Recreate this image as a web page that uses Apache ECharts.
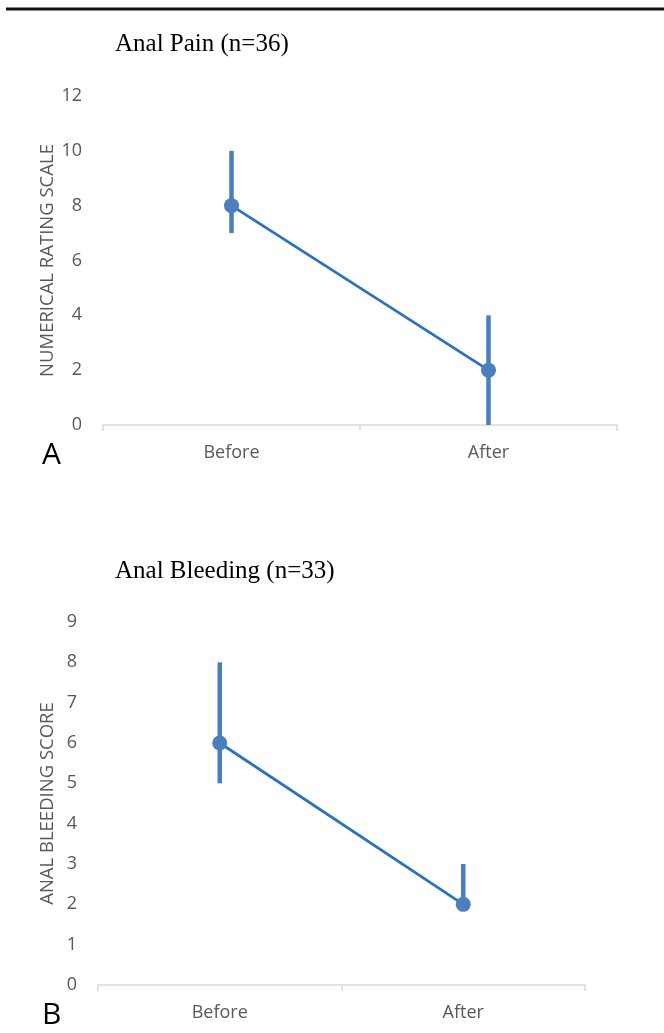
<!DOCTYPE html>
<html><head><meta charset="utf-8">
<script src="https://cdn.jsdelivr.net/npm/echarts@6/dist/echarts.min.js"></script>
<style>html,body{margin:0;padding:0;background:#fff}#c{width:664px;height:1033px}</style>
</head><body><div id="c"></div>
<script>
var categories = ['Before', 'After'];
var painMean = [8, 2];
var painLow = [7, 0];
var painHigh = [10, 4];
var bleedMean = [6, 2];
var bleedLow = [5, 2];
var bleedHigh = [8, 3];
var painTicks = {min: 0, max: 12, interval: 2};
var bleedTicks = {min: 0, max: 9, interval: 1};

var LINE = '#2a72bd', BAR = '#4a7ebf', GRAY = '#595959', AX = '#d9d9d9';
var FONT = 'Open Sans';

function errData(low, high) {
  return categories.map(function (c, i) { return [i, low[i], high[i]]; });
}
function errSeries(idx, low, high) {
  return {
    type: 'custom', xAxisIndex: idx, yAxisIndex: idx, z: 2,
    data: errData(low, high),
    renderItem: function (params, api) {
      var a = api.coord([api.value(0), api.value(1)]);
      var b = api.coord([api.value(0), api.value(2)]);
      return {type: 'line', shape: {x1: a[0], y1: a[1], x2: b[0], y2: b[1]},
        style: {stroke: BAR, lineWidth: 4.5}};
    }
  };
}
function xAxis(idx) {
  return {type: 'category', gridIndex: idx, data: categories, boundaryGap: true,
    axisLine: {lineStyle: {color: AX, width: 1.5}},
    axisTick: {show: true, length: 6, lineStyle: {color: AX, width: 1.5}},
    axisLabel: {color: GRAY, fontSize: 18, fontFamily: FONT, margin: 19}};
}
function yAxis(idx, t, name, gap) {
  return {type: 'value', gridIndex: idx, min: t.min, max: t.max, interval: t.interval,
    name: name, nameLocation: 'middle', nameRotate: 90, nameGap: gap, nameMoveOverlap: false,
    nameTextStyle: {color: GRAY, fontSize: 18.5, fontFamily: FONT},
    axisLine: {show: false}, axisTick: {show: false}, splitLine: {show: false},
    axisLabel: {color: GRAY, fontSize: 18, fontFamily: FONT, margin: 21}};
}
function lineSeries(idx, vals) {
  return {type: 'line', xAxisIndex: idx, yAxisIndex: idx, data: vals, z: 3,
    symbol: 'circle', symbolSize: 15, showSymbol: true,
    lineStyle: {color: LINE, width: 2.75}, itemStyle: {color: BAR},
    emphasis: {disabled: true}};
}

var chart = echarts.init(document.getElementById('c'), null, {renderer: 'canvas'});
chart.setOption({
  animation: false,
  backgroundColor: '#fff',
  title: [
    {text: 'Anal Pain (n=36)', left: 110, top: 27,
      textStyle: {fontFamily: 'Liberation Serif', fontSize: 25, fontWeight: 'normal', color: '#000'}},
    {text: 'Anal Bleeding (n=33)', left: 110, top: 554,
      textStyle: {fontFamily: 'Liberation Serif', fontSize: 25, fontWeight: 'normal', color: '#000'}},
    {text: 'A', left: 37, top: 435,
      textStyle: {fontFamily: FONT, fontSize: 30, fontWeight: 'normal', color: '#000'}},
    {text: 'B', left: 37, top: 995,
      textStyle: {fontFamily: FONT, fontSize: 30, fontWeight: 'normal', color: '#000'}}
  ],
  graphic: [{type: 'line', shape: {x1: 6, y1: 9, x2: 664, y2: 9}, style: {stroke: '#111', lineWidth: 3}}],
  grid: [
    {left: 103, right: 47, top: 96, bottom: 608},
    {left: 98, right: 79, top: 622, bottom: 48}
  ],
  xAxis: [xAxis(0), xAxis(1)],
  yAxis: [yAxis(0, painTicks, 'NUMERICAL RATING SCALE', 46), yAxis(1, bleedTicks, 'ANAL BLEEDING SCORE', 41)],
  series: [
    errSeries(0, painLow, painHigh), lineSeries(0, painMean),
    errSeries(1, bleedLow, bleedHigh), lineSeries(1, bleedMean)
  ]
});
</script></body></html>
